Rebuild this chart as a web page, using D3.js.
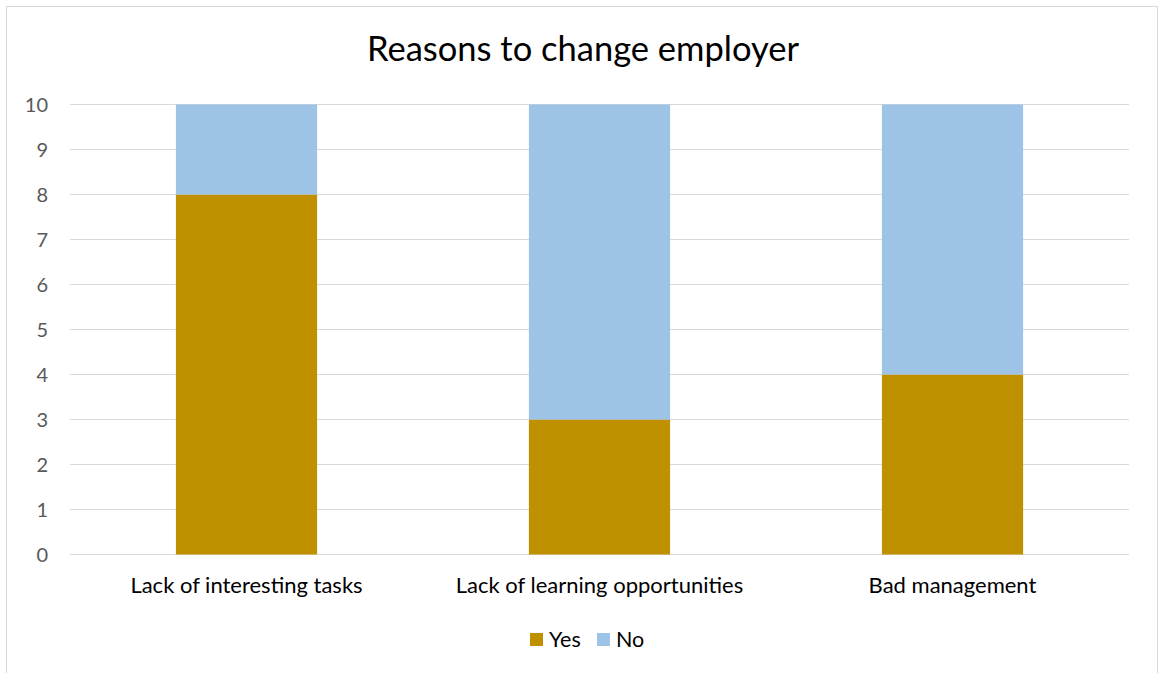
<!DOCTYPE html>
<html>
<head>
<meta charset="utf-8">
<script src="https://cdn.jsdelivr.net/npm/d3@7"></script>
<style>
  html, body { margin: 0; padding: 0; background: #fff; }
  svg { display: block; font-family: Lato, "Open Sans", sans-serif; }
</style>
</head>
<body>
<div id="chart"></div>
<script>
// data
const categories = ["Lack of interesting tasks", "Lack of learning opportunities", "Bad management"];
const yesValues = [8, 3, 4];
const noValues = [2, 7, 6];
const seriesNames = ["Yes", "No"];
const yTicks = [0, 1, 2, 3, 4, 5, 6, 7, 8, 9, 10];

const colors = { Yes: "#BF9000", No: "#9DC3E6" };

const W = 1160, H = 673;

let svg = d3.select("#chart").append("svg")
    .attr("width", W)
    .attr("height", H);

// chart border
svg.append("rect")
    .attr("x", 6.5).attr("y", 6.5)
    .attr("width", 1151).attr("height", 680)
    .attr("fill", "#fff")
    .attr("stroke", "#d9d9d9")
    .attr("stroke-width", 1);

svg.append("text")
    .attr("x", 583)
    .attr("y", 61)
    .attr("text-anchor", "middle")
    .attr("fill", "#000")
    .style("font-size", "34.5px")
    .text("Reasons to change employer");

let x = d3.scaleBand()
    .domain(categories)
    .range([70, 1129])
    .paddingInner(0.6)
    .paddingOuter(0.3);

let y = d3.scaleLinear()
    .domain([0, 10])
    .range([554.5, 104.5]);

// gridlines
svg.append("g")
    .selectAll("line")
    .data(yTicks)
    .enter().append("line")
    .attr("x1", 70).attr("x2", 1129)
    .attr("y1", d => y(d)).attr("y2", d => y(d))
    .attr("stroke", "#d9d9d9")
    .attr("stroke-width", 1);

// y tick labels
svg.append("g")
    .selectAll("text")
    .data(yTicks)
    .enter().append("text")
    .attr("x", 48)
    .attr("y", d => y(d))
    .attr("dy", "0.36em")
    .attr("text-anchor", "end")
    .attr("fill", "#595959")
    .style("font-size", "20px")
    .text(d => d);

let rows = categories.map((c, i) => ({ cat: c, Yes: yesValues[i], No: noValues[i] }));
let stack = d3.stack().keys(seriesNames);

let serie = svg.append("g")
    .selectAll("g")
    .data(stack(rows))
    .enter().append("g")
    .attr("fill", d => colors[d.key]);

serie.selectAll("rect")
    .data(d => d)
    .enter().append("rect")
    .attr("x", d => x(d.data.cat))
    .attr("width", x.bandwidth())
    .attr("y", d => y(d[1]))
    .attr("height", d => y(d[0]) - y(d[1]));

// category labels
svg.append("g")
    .selectAll("text")
    .data(categories)
    .enter().append("text")
    .attr("x", d => x(d) + x.bandwidth() / 2)
    .attr("y", 593)
    .attr("text-anchor", "middle")
    .attr("fill", "#000")
    .style("font-size", "22px")
    .text(d => d);

// legend
let legendX = [530, 597];
let legend = svg.append("g")
    .selectAll("g")
    .data(seriesNames)
    .enter().append("g")
    .attr("transform", (d, i) => "translate(" + legendX[i] + ",633)");

legend.append("rect")
    .attr("width", 13)
    .attr("height", 13)
    .attr("fill", d => colors[d]);

legend.append("text")
    .attr("x", 19)
    .attr("y", 13.5)
    .attr("fill", "#000")
    .style("font-size", "21.5px")
    .text(d => d);
</script>
</body>
</html>
